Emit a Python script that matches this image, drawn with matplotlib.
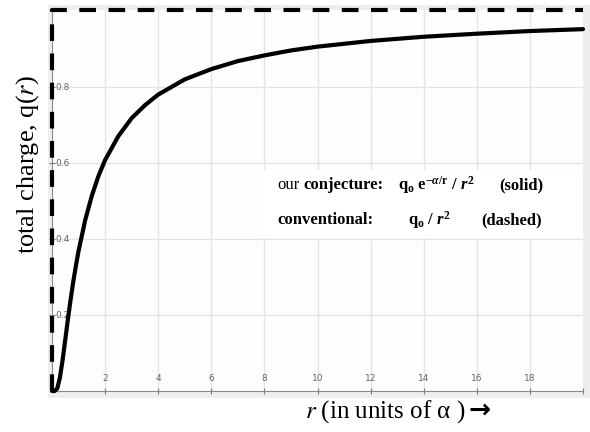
import matplotlib
matplotlib.use("Agg")
import matplotlib.pyplot as plt
from matplotlib.patches import Rectangle

# total charge of the conjecture, read along r (in units of alpha)
r_vals = [0.0, 0.1, 0.2, 0.3, 0.4, 0.5, 0.6, 0.7, 0.8, 0.9, 1.0, 1.25, 1.5,
          1.75, 2.0, 2.5, 3.0, 3.5, 4.0, 5.0, 6.0, 7.0, 8.0, 9.0, 10.0,
          12.0, 14.0, 16.0, 18.0, 20.0]
q_vals = [0.0, 0.0, 0.007, 0.036, 0.082, 0.135, 0.189, 0.240, 0.287, 0.329,
          0.368, 0.449, 0.513, 0.565, 0.607, 0.670, 0.717, 0.751, 0.779,
          0.819, 0.846, 0.867, 0.882, 0.895, 0.905, 0.920, 0.931, 0.939,
          0.946, 0.951]

# conventional point charge: all of it sits at r = 0
conv_r = [0.0, 0.0, 20.0]
conv_q = [0.0, 1.0, 1.0]

x_ticks = [2, 4, 6, 8, 10, 12, 14, 16, 18]
y_ticks = [0.2, 0.4, 0.6, 0.8]

plt.rcParams["mathtext.fontset"] = "custom"
plt.rcParams["mathtext.rm"] = "Liberation Serif:bold"
plt.rcParams["mathtext.it"] = "Liberation Serif:italic:bold"
plt.rcParams["mathtext.bf"] = "Liberation Serif:bold"
serif = ["Liberation Serif", "DejaVu Sans"]

W, H = 590, 432
fig = plt.figure(figsize=(W / 100, H / 100), dpi=100)

# light grey frame round the plotting area
bg = fig.add_axes([48 / W, 1 - 398 / H, (590 - 48) / W, (398 - 5) / H])
bg.set_facecolor("#eeeeee")
bg.set_xticks([])
bg.set_yticks([])
for s in bg.spines.values():
    s.set_visible(False)

ax = fig.add_axes([52 / W, 1 - 391 / H, (583 - 52) / W, (391 - 10.5) / H])
ax.set_facecolor("#fdfdfd")
ax.set_xlim(0, 20)
ax.set_ylim(0, 1.0)

ax.grid(True, color="#e4e4e4", lw=1.0)
ax.set_axisbelow(True)

for side in ("top", "right"):
    ax.spines[side].set_visible(False)
for side in ("left", "bottom"):
    ax.spines[side].set_color("#8a8a8a")
    ax.spines[side].set_linewidth(0.8)

ax.set_xticks(x_ticks)
ax.set_xticks([20], minor=True)
ax.set_yticks(y_ticks)
ax.set_yticklabels(["%.1f" % v for v in y_ticks])
ax.tick_params(axis="both", which="both", direction="inout", length=5,
               width=0.8, color="#777777", labelsize=6.5, labelcolor="#666666")
ax.tick_params(axis="x", pad=-15)
ax.tick_params(axis="y", pad=-5)
for lbl in ax.get_yticklabels():
    lbl.set_horizontalalignment("left")

ax.plot(conv_r, conv_q, color="black", lw=3, dashes=(4, 3), clip_on=False,
        zorder=4)
ax.plot(r_vals, q_vals, color="black", lw=3, solid_capstyle="round",
        solid_joinstyle="round", clip_on=False, zorder=5)

# legend box written out as text
ax.add_patch(Rectangle((7.92, 0.402), 12.0, 0.18, facecolor="white",
                       edgecolor="none", zorder=3))
fs = 12
y1, y2 = 0.541, 0.449
ax.text(8.49, y1, "our", family=serif, fontsize=fs, va="center", zorder=6)
ax.text(9.47, y1, "conjecture:", family=serif, fontsize=fs,
        fontweight="bold", va="center", zorder=6)
ax.text(13.02, y1, r"q$_\mathrm{o}$ e$^{-\alpha/\mathrm{r}}$ / $r^2$",
        family=serif, fontsize=fs, fontweight="bold", va="center", zorder=6)
ax.text(16.83, y1, "(solid)", family=serif, fontsize=fs, fontweight="bold",
        va="center", zorder=6)
ax.text(8.49, y2, "conventional:", family=serif, fontsize=fs,
        fontweight="bold", va="center", zorder=6)
ax.text(13.40, y2, r"q$_\mathrm{o}$ / $r^2$", family=serif, fontsize=fs,
        fontweight="bold", va="center", zorder=6)
ax.text(16.15, y2, "(dashed)", family=serif, fontsize=fs, fontweight="bold",
        va="center", zorder=6)

# axis titles
fig.text(28 / W, 1 - 165 / H, "total charge, q($\\mathit{r}$)", family=serif,
         fontsize=19, rotation=90, ha="center", va="center",
         math_fontfamily="stix")
fig.text(305 / W, 1 - 412 / H, "$\\mathit{r}$ (in units of \u03b1 )",
         family=serif, fontsize=18, ha="left", va="center",
         math_fontfamily="stix")
fig.text(468 / W, 1 - 411 / H, "\u2192", family="DejaVu Sans",
         fontweight="bold", fontsize=19, ha="left", va="center")

fig.savefig("out.png", dpi=100)
